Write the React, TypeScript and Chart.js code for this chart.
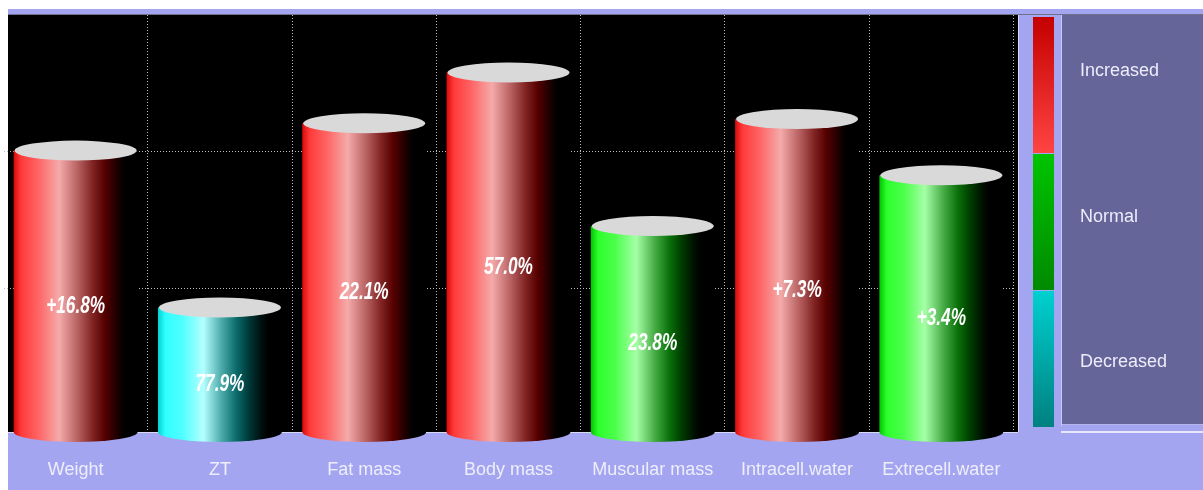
import React, { useEffect, useRef } from 'react';
import { Chart, registerables } from 'chart.js';

Chart.register(...registerables);

// Body composition parameters, their level (0-1 decreased, 1-2 normal, 2-3 increased)
const CATEGORIES = ['Weight', 'ZT', 'Fat mass', 'Body mass', 'Muscular mass', 'Intracell.water', 'Extrecell.water'];
const LEVELS = [2.01, 0.865, 2.21, 2.58, 1.46, 2.24, 1.83];
const CHANGE_LABELS = ['+16.8%', '77.9%', '22.1%', '57.0%', '23.8%', '+7.3%', '+3.4%'];
const BAND_NAMES = ['Increased', 'Normal', 'Decreased'];
const BAND_BOUNDS = [3, 2, 1, 0];
const LEVEL_TICKS = [1, 2];
const LEVEL_MIN = -0.044;
const LEVEL_MAX = 3;

const W = 1203;
const H = 490;
const LAVENDER = '#a3a5f1';
const PANEL = '#65659a';
const LABEL_FONT = '"Liberation Sans", Arial, sans-serif';

type Stops = [number, string][];

const BODY_STOPS: Record<string, Stops> = {
  increased: [
    [0, '#d80a0a'], [0.06, '#ff3a3a'], [0.2, '#ff6464'], [0.37, '#f5aaaa'],
    [0.52, '#b86262'], [0.64, '#822424'], [0.74, '#560000'], [0.84, '#1e0000'], [0.9, '#000000'], [1, '#000000'],
  ],
  normal: [
    [0, '#00c400'], [0.06, '#2cff2c'], [0.2, '#4cff4c'], [0.37, '#a6ffa6'],
    [0.52, '#46ac46'], [0.64, '#0a700a'], [0.74, '#003c00'], [0.84, '#001000'], [0.9, '#000000'], [1, '#000000'],
  ],
  decreased: [
    [0, '#00d0d0'], [0.06, '#30ffff'], [0.2, '#50ffff'], [0.37, '#b4ffff'],
    [0.52, '#4aa8a8'], [0.64, '#0a6a6a'], [0.74, '#003838'], [0.84, '#000f0f'], [0.9, '#000000'], [1, '#000000'],
  ],
};

const BAND_BAR: [string, string][] = [
  ['#c40000', '#ff4444'],
  ['#00c400', '#008a00'],
  ['#00d0d0', '#008080'],
];

const statusOf = (v: number) => (v >= 2 ? 'increased' : v >= 1 ? 'normal' : 'decreased');

const frame = {
  id: 'frame',
  beforeDraw(chart: any) {
    const { ctx, chartArea } = chart;
    const y = chart.scales.y;
    ctx.save();
    ctx.fillStyle = '#ffffff';
    ctx.fillRect(0, 0, W, H);
    ctx.fillStyle = LAVENDER;
    ctx.fillRect(8, 9, W - 8, H - 9);
    ctx.fillStyle = '#70708a';
    ctx.fillRect(8, 14, W - 8, 1);
    // plot background
    const plotRight = 1018;
    ctx.fillStyle = '#000000';
    ctx.fillRect(8, chartArea.top, plotRight - 8, chartArea.bottom - chartArea.top);

    // colour key bar
    const barX = 1033;
    const barW = 21;
    for (let i = 0; i < 3; i++) {
      const t = y.getPixelForValue(BAND_BOUNDS[i]) + 2;
      const b = y.getPixelForValue(BAND_BOUNDS[i + 1]) + 1;
      const g = ctx.createLinearGradient(0, t, 0, b);
      g.addColorStop(0, BAND_BAR[i][0]);
      g.addColorStop(1, BAND_BAR[i][1]);
      ctx.fillStyle = g;
      ctx.fillRect(barX, t, barW, b - t);
    }

    // key panel
    ctx.fillStyle = '#c9caf6';
    ctx.fillRect(1061, 15, 1, 411);
    ctx.fillStyle = PANEL;
    ctx.fillRect(1062, 15, W - 1062, 410);
    ctx.fillStyle = '#b4b5ee';
    ctx.fillRect(1062, 424, W - 1062, 1);
    ctx.fillStyle = '#e6e7fc';
    ctx.fillRect(1061, 431, W - 1061, 2);

    ctx.fillStyle = '#ececfa';
    ctx.font = `18px ${LABEL_FONT}`;
    ctx.textAlign = 'left';
    ctx.textBaseline = 'middle';
    const keyY = [71, 217, 362];
    BAND_NAMES.forEach((n, i) => ctx.fillText(n, 1080, keyY[i]));
    ctx.restore();
  },
  afterDatasetsDraw(chart: any) {
    const { ctx, chartArea } = chart;
    const meta = chart.getDatasetMeta(0);
    ctx.save();
    // plot border lines
    ctx.fillStyle = '#d8d9f8';
    ctx.fillRect(8, chartArea.bottom, 1010, 1);
    ctx.fillRect(1018, chartArea.top, 1, chartArea.bottom - chartArea.top);

    meta.data.forEach((el: any, i: number) => {
      const { x, y, base, width } = el.getProps(['x', 'y', 'base', 'width'], true);
      const half = width / 2;
      const ry = 10;
      const stops = BODY_STOPS[statusOf(LEVELS[i])];
      const g = ctx.createLinearGradient(x - half - 1, 0, x + half, 0);
      stops.forEach(([o, c]) => g.addColorStop(o, c));
      ctx.beginPath();
      ctx.moveTo(x - half - 1, y);
      ctx.lineTo(x - half - 1, base);
      ctx.ellipse(x, base, half + 1, ry, 0, Math.PI, 0, true);
      ctx.lineTo(x + half, y);
      ctx.closePath();
      ctx.fillStyle = g;
      ctx.fill();

      ctx.beginPath();
      ctx.ellipse(x, y, half, ry, 0, 0, Math.PI * 2);
      ctx.fillStyle = '#d9d9d9';
      ctx.fill();

      ctx.save();
      ctx.translate(x, (y + base) / 2 + 15);
      ctx.scale(0.75, 1);
      ctx.font = `italic bold 23px ${LABEL_FONT}`;
      ctx.fillStyle = '#ffffff';
      ctx.textAlign = 'center';
      ctx.textBaseline = 'middle';
      ctx.fillText(CHANGE_LABELS[i], 0, 0);
      ctx.restore();
    });
    ctx.restore();
  },
};

export default function App() {
  const ref = useRef<HTMLCanvasElement | null>(null);

  useEffect(() => {
    if (!ref.current) return;
    const chart = new Chart(ref.current, {
      type: 'bar',
      data: {
        labels: CATEGORIES,
        datasets: [
          {
            data: LEVELS,
            base: LEVEL_MIN,
            backgroundColor: 'rgba(0,0,0,0)',
            borderWidth: 0,
            barPercentage: 0.845,
            categoryPercentage: 1,
          } as any,
        ],
      },
      options: {
        responsive: false,
        animation: false,
        devicePixelRatio: 1,
        layout: { padding: { left: 3.5, right: 189.5, top: 15, bottom: 0 } },
        plugins: { legend: { display: false }, tooltip: { enabled: false } },
        scales: {
          x: {
            grid: {
              offset: true,
              drawTicks: false,
              color: (c: any) => (c.index === 0 ? 'rgba(0,0,0,0)' : '#bdbdbd'),
              lineWidth: 1,
            },
            border: { display: false, dash: [1, 2] },
            ticks: {
              color: '#eeeefb',
              font: { family: LABEL_FONT, size: 18 },
              padding: 27,
              maxRotation: 0,
              autoSkip: false,
            },
            afterFit: (s: any) => {
              s.height = 58;
            },
          },
          y: {
            min: LEVEL_MIN,
            max: LEVEL_MAX,
            grid: { color: '#bdbdbd', lineWidth: 1, drawTicks: false },
            border: { display: false, dash: [1, 2] },
            ticks: { display: false },
            afterBuildTicks: (s: any) => {
              s.ticks = LEVEL_TICKS.map((v) => ({ value: v }));
            },
            afterFit: (s: any) => {
              s.width = 0;
            },
          },
        },
      },
      plugins: [frame],
    });
    return () => chart.destroy();
  }, []);

  return (
    <div style={{ position: 'fixed', left: 0, top: 0, width: W, height: H }}>
      <canvas ref={ref} width={W} height={H} style={{ display: 'block' }} />
    </div>
  );
}
